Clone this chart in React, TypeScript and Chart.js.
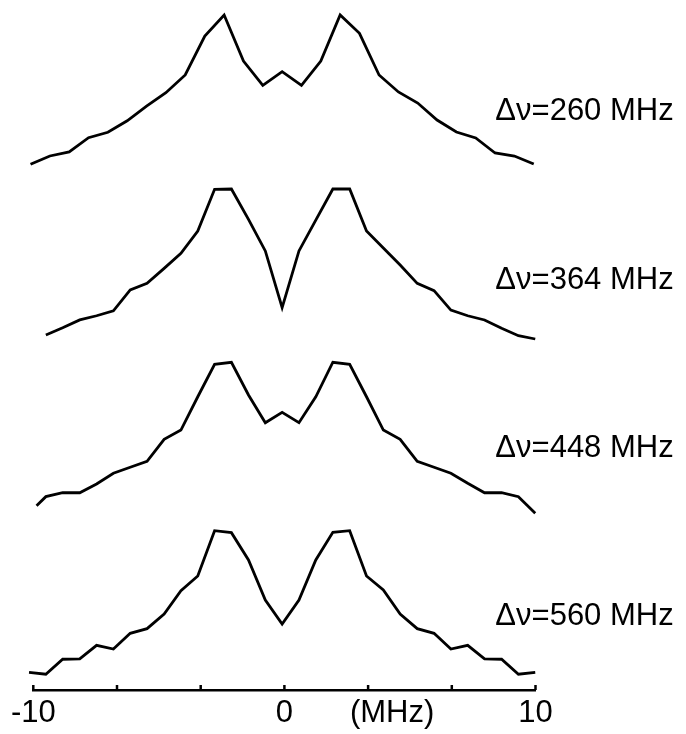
import React, { useEffect, useRef } from "react";
import { Chart, registerables } from "chart.js";

Chart.register(...registerables);

const FONT = '"Liberation Sans", Arial, Helvetica, sans-serif';

// frequency grids (MHz)
const xCoarse = [-10.11, -9.34, -8.57, -7.8, -7.03, -6.26, -5.49, -4.72, -3.95, -3.17, -2.4, -1.63, -0.86, -0.09, 0.68, 1.45, 2.22, 2.99, 3.77, 4.54, 5.31, 6.08, 6.85, 7.62, 8.39, 9.16, 9.93];
const xFine = [-10.17, -9.5, -8.83, -8.15, -7.48, -6.81, -6.14, -5.47, -4.79, -4.12, -3.45, -2.78, -2.11, -1.43, -0.76, -0.09, 0.58, 1.25, 1.93, 2.6, 3.27, 3.94, 4.61, 5.29, 5.96, 6.63, 7.3, 7.97, 8.65, 9.32, 9.99];
const trace448Start = -9.87;

// normalized intensities
const trace260 = [0.005, 0.06, 0.087, 0.182, 0.218, 0.295, 0.393, 0.482, 0.6, 0.86, 1.0, 0.693, 0.531, 0.622, 0.531, 0.693, 1.0, 0.878, 0.6, 0.487, 0.413, 0.3, 0.22, 0.18, 0.08, 0.06, 0.007];
const trace364 = [0.027, 0.075, 0.127, 0.155, 0.188, 0.327, 0.371, 0.471, 0.571, 0.72, 0.998, 1.0, 0.798, 0.587, 0.209, 0.587, 0.793, 1.0, 1.0, 0.72, 0.607, 0.493, 0.371, 0.322, 0.193, 0.155, 0.127, 0.071, 0.022, 0.0];
const trace448 = [0.049, 0.109, 0.135, 0.135, 0.193, 0.265, 0.305, 0.345, 0.491, 0.553, 0.775, 0.991, 1.005, 0.787, 0.602, 0.671, 0.602, 0.775, 1.005, 0.991, 0.775, 0.553, 0.491, 0.345, 0.305, 0.265, 0.198, 0.135, 0.135, 0.109, -0.002];
const trace560 = [0.018, 0.005, 0.105, 0.107, 0.198, 0.173, 0.278, 0.309, 0.407, 0.562, 0.66, 0.962, 0.949, 0.767, 0.5, 0.34, 0.5, 0.767, 0.951, 0.962, 0.66, 0.567, 0.407, 0.309, 0.278, 0.173, 0.198, 0.107, 0.105, 0.005, 0.018];

const traceLabels = ["Δν=260 MHz", "Δν=364 MHz", "Δν=448 MHz", "Δν=560 MHz"];
const traceOffsets = [3.4, 2.24, 1.08, 0];
const labelLevels = [0.36, 0.39, 0.43, 0.39];
const labelX = 8.4;

const tickValues = [-10, -20 / 3, -10 / 3, 0, 10 / 3, 20 / 3, 10];
const labeledTicks = [-10, 0, 10];
const unitLabel = "(MHz)";
const unitLabelX = 4.29;

const TICK_FONT_SIZE = 31;
const TICK_PADDING = 5;

export default function App() {
  const canvasRef = useRef<HTMLCanvasElement | null>(null);

  useEffect(() => {
    const canvas = canvasRef.current;
    if (!canvas) return;

    const xs = [xCoarse, xFine.slice(1), [trace448Start, ...xFine.slice(1)], xFine];
    const ys = [trace260, trace364, trace448, trace560];

    const datasets = ys.map((vals, i) => ({
      label: traceLabels[i],
      data: vals.map((v, j) => ({ x: xs[i][j], y: v + traceOffsets[i] })),
      borderColor: "#000",
      borderWidth: 2.8,
      pointRadius: 0,
      tension: 0,
      fill: false,
      clip: false as any,
      borderJoinStyle: "miter" as const,
    }));

    const overlay = {
      id: "overlay",
      afterDraw(chart: any) {
        const { ctx } = chart;
        const x = chart.scales.x;
        const y = chart.scales.y;
        const axisY = x.top;
        ctx.save();
        ctx.strokeStyle = "#000";
        ctx.lineWidth = 2.5;
        tickValues.forEach((v) => {
          const px = x.getPixelForValue(v);
          ctx.beginPath();
          ctx.moveTo(px, axisY);
          ctx.lineTo(px, axisY - 5);
          ctx.stroke();
        });
        ctx.fillStyle = "#000";
        ctx.font = `${TICK_FONT_SIZE}px ${FONT}`;
        ctx.textBaseline = "middle";
        ctx.textAlign = "center";
        ctx.fillText(unitLabel, x.getPixelForValue(unitLabelX), axisY + TICK_PADDING + (TICK_FONT_SIZE * 1.2) / 2);
        ctx.textAlign = "left";
        traceLabels.forEach((t, i) => {
          ctx.fillText(t, x.getPixelForValue(labelX), y.getPixelForValue(traceOffsets[i] + labelLevels[i]));
        });
        ctx.restore();
      },
    };

    const chart = new Chart(canvas, {
      type: "line",
      data: { datasets },
      options: {
        animation: false,
        responsive: false,
        devicePixelRatio: 1,
        layout: { padding: { left: 33.3, right: 150.5, top: 0, bottom: 0 } },
        plugins: { legend: { display: false }, tooltip: { enabled: false } },
        scales: {
          x: {
            type: "linear",
            min: -10,
            max: 10,
            afterBuildTicks: (scale: any) => {
              scale.ticks = tickValues.map((v) => ({ value: v }));
            },
            afterFit: (scale: any) => {
              scale.height = 44;
            },
            ticks: {
              autoSkip: false,
              maxRotation: 0,
              padding: TICK_PADDING,
              color: "#000",
              font: { family: FONT, size: TICK_FONT_SIZE },
              callback: (v: any) =>
                labeledTicks.some((t) => Math.abs(t - Number(v)) < 1e-6) ? String(Math.round(Number(v))) : "",
            },
            grid: { display: false, drawTicks: false },
            border: { display: true, color: "#000", width: 2.5 },
          },
          y: {
            type: "linear",
            min: -0.1,
            max: 4.5,
            display: false,
          },
        },
      },
      plugins: [overlay],
    });

    return () => chart.destroy();
  }, []);

  return (
    <div style={{ position: "absolute", left: 0, top: 0, width: 686, height: 734, background: "#fff" }}>
      <canvas ref={canvasRef} width={686} height={734} style={{ display: "block" }} />
    </div>
  );
}
